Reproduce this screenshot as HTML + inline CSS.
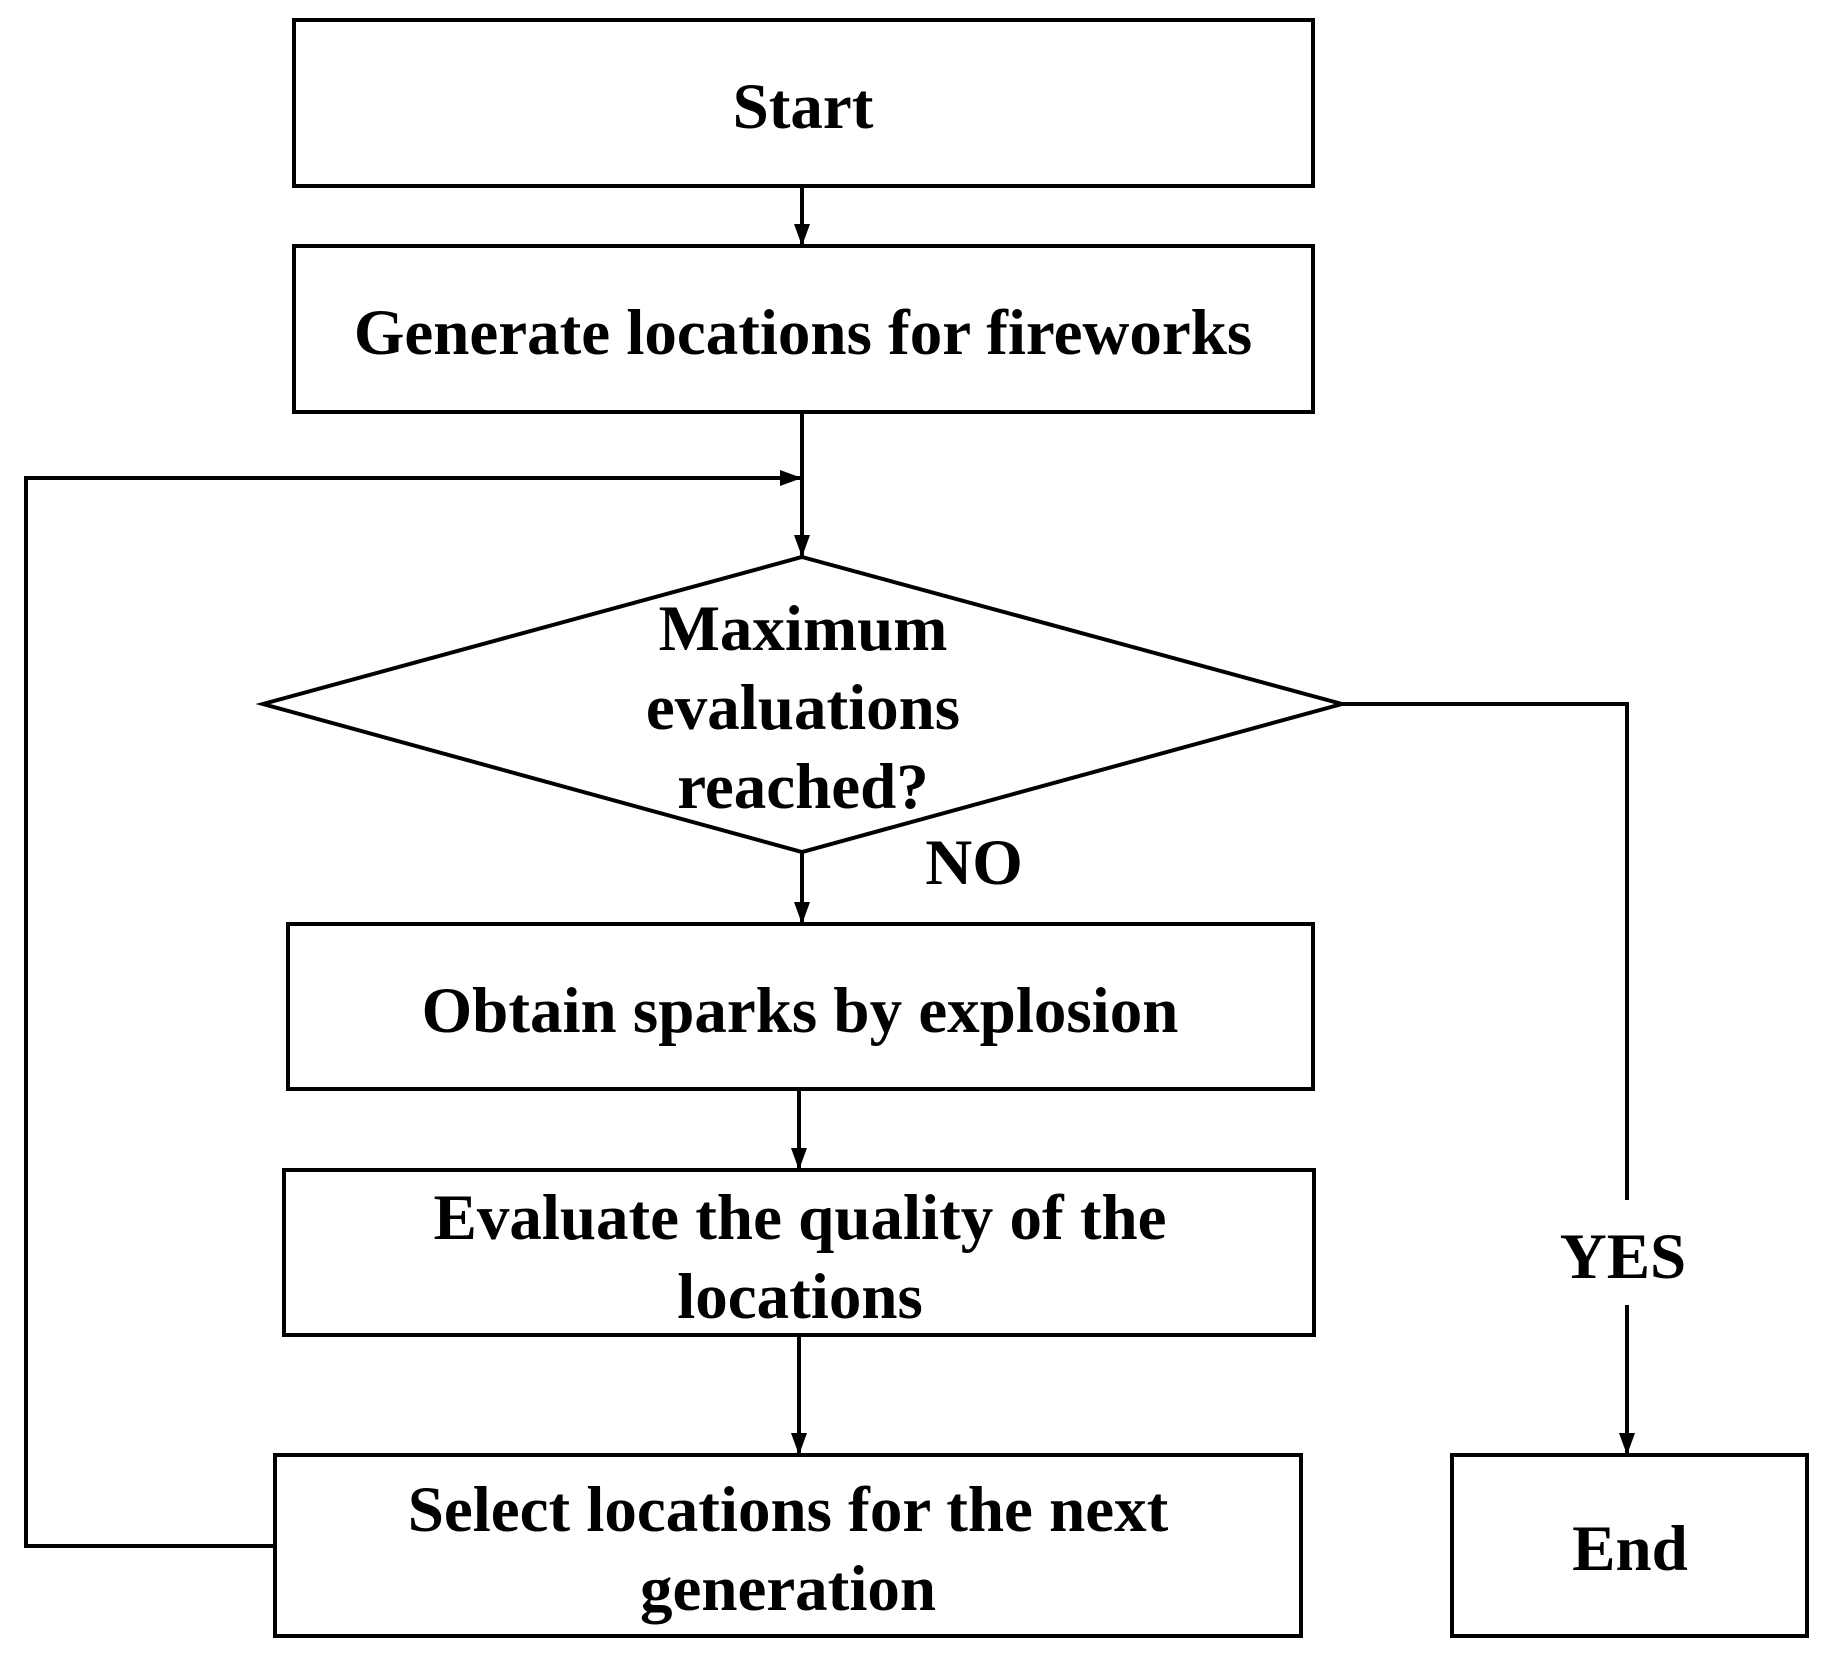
<!DOCTYPE html>
<html><head><style>body{margin:0;background:#fff}svg{display:block}</style></head><body>
<svg width="1822" height="1654" viewBox="0 0 1822 1654" xmlns="http://www.w3.org/2000/svg">
<defs>
<marker id="b" markerWidth="26" markerHeight="26" refX="22" refY="13" orient="auto" markerUnits="userSpaceOnUse"><path d="M0,5 L22,13 L0,21 z" fill="#000"/></marker></defs>
<g fill="none" stroke="#000" stroke-width="4">
<rect x="294" y="20" width="1019" height="166"/>
<rect x="294" y="246" width="1019" height="166"/>
<polygon points="802,557 1342,704 802,852 263,704"/>
<rect x="288" y="924" width="1025" height="165"/>
<rect x="284" y="1170" width="1030" height="165"/>
<rect x="275" y="1455" width="1026" height="181"/>
<rect x="1452" y="1455" width="355" height="181"/>
<line x1="802" y1="186" x2="802" y2="246" marker-end="url(#b)"/>
<line x1="802" y1="412" x2="802" y2="557" marker-end="url(#b)"/>
<polyline points="275,1546 26,1546 26,478 802,478" marker-end="url(#b)"/>
<line x1="802" y1="852" x2="802" y2="924" marker-end="url(#b)"/>
<line x1="799" y1="1089" x2="799" y2="1170" marker-end="url(#b)"/>
<line x1="799" y1="1335" x2="799" y2="1455" marker-end="url(#b)"/>
<polyline points="1342,704 1627,704 1627,1200"/>
<line x1="1627" y1="1305" x2="1627" y2="1455" marker-end="url(#b)"/>
</g>
<g font-family="Liberation Serif, serif" font-weight="bold" font-size="65" text-anchor="middle" fill="#000">
<text x="803" y="128">Start</text>
<text x="803" y="354">Generate locations for fireworks</text>
<text x="803" y="650">Maximum</text>
<text x="803" y="729">evaluations</text>
<text x="803" y="808">reached?</text>
<text x="974" y="884">NO</text>
<text x="800" y="1032">Obtain sparks by explosion</text>
<text x="800" y="1239">Evaluate the quality of the</text>
<text x="800" y="1318">locations</text>
<text x="788" y="1531">Select locations for the next</text>
<text x="788" y="1610">generation</text>
<text x="1630" y="1570">End</text>
<text x="1623" y="1278">YES</text>
</g>
</svg>
</body></html>
